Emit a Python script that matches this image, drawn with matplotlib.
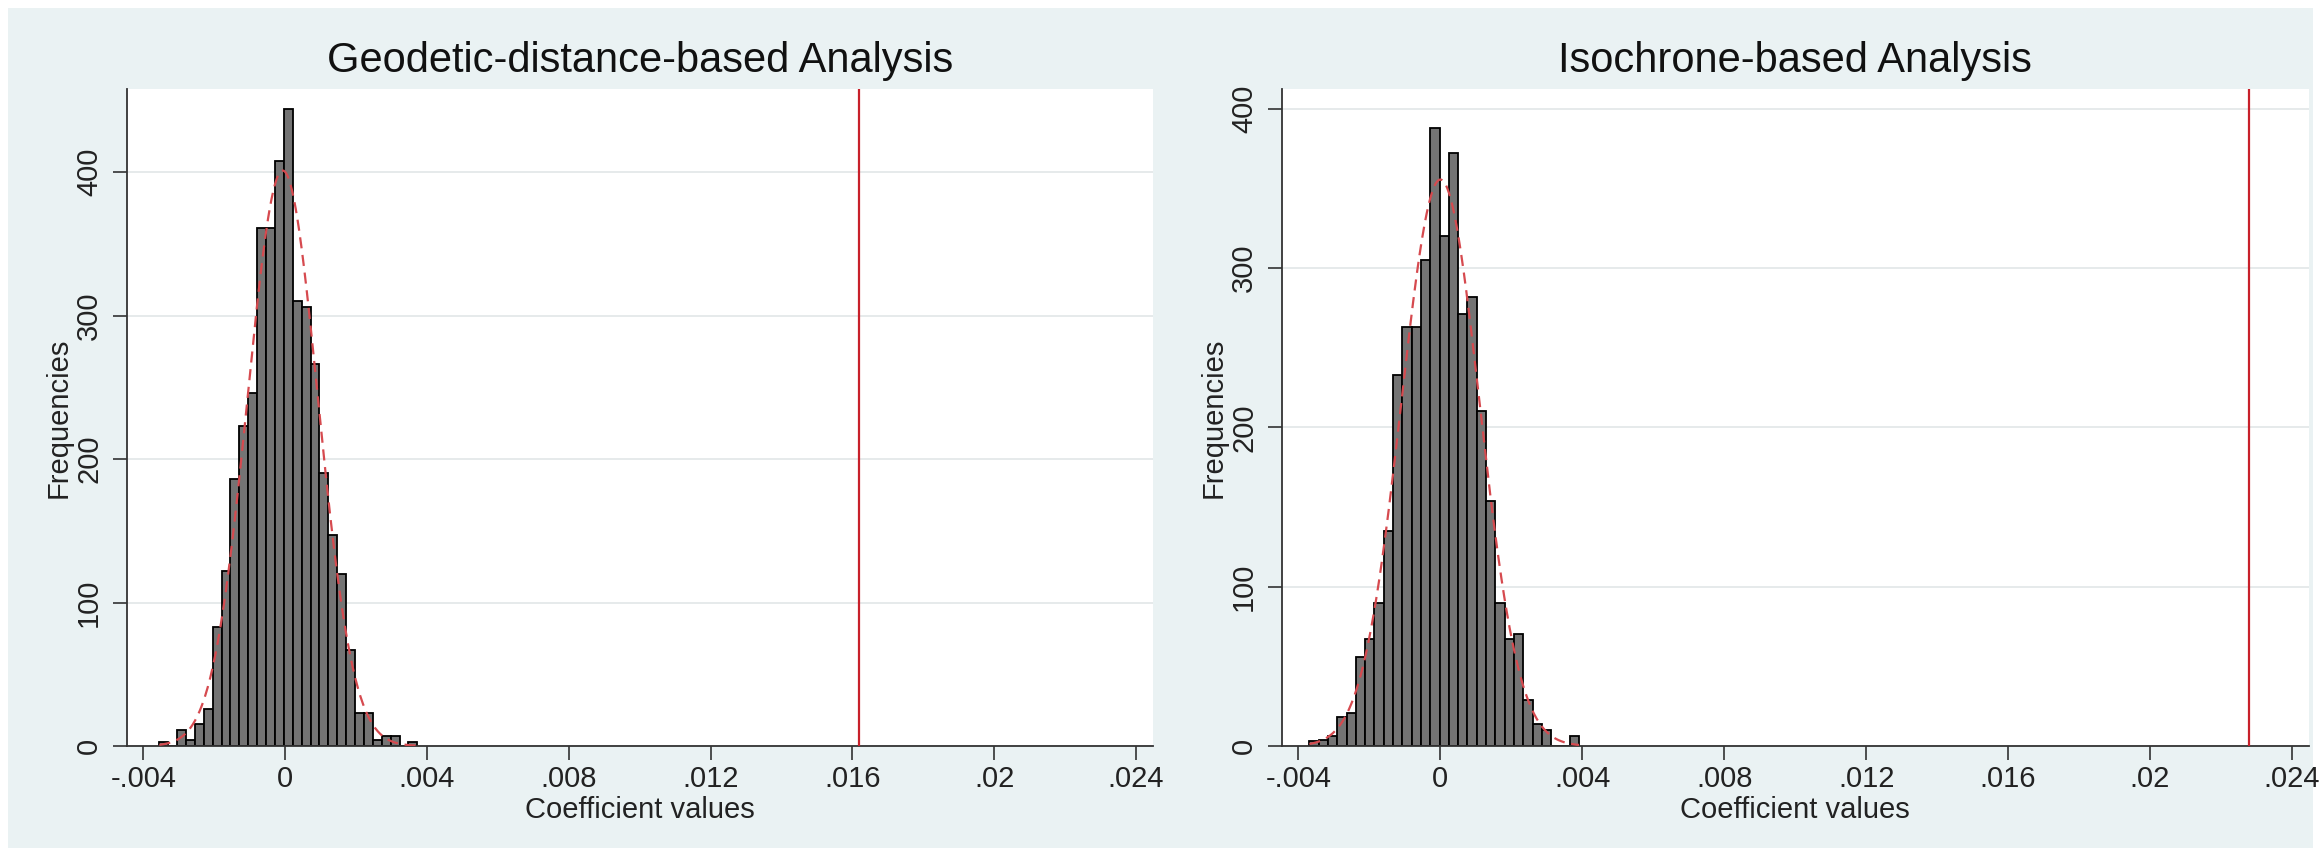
import numpy as np
import matplotlib
matplotlib.use("Agg")
import matplotlib.pyplot as plt
from matplotlib.patches import Rectangle

plt.rcParams['font.family'] = ['Liberation Sans', 'DejaVu Sans']

# histogram counts (29 bins each)
geo_counts = [3, 0, 11, 4, 15, 26, 83, 122, 186, 223, 246, 361, 361, 408, 444,
              310, 306, 266, 190, 147, 120, 67, 23, 23, 4, 7, 7, 0, 3]
geo_bin_start = -0.00355
geo_bin_width = 0.000251
geo_observed = 0.0162

iso_counts = [3, 4, 6, 18, 21, 56, 67, 90, 135, 233, 263, 263, 305, 388, 320,
              372, 271, 282, 210, 154, 90, 67, 70, 29, 14, 10, 0, 0, 6]
iso_bin_start = -0.00369
iso_bin_width = 0.000262
iso_observed = 0.0228

titles = ["Geodetic-distance-based Analysis", "Isochrone-based Analysis"]
x_ticks = [-0.004, 0, 0.004, 0.008, 0.012, 0.016, 0.02, 0.024]
x_tick_labels = ['-.004', '0', '.004', '.008', '.012', '.016', '.02', '.024']
y_ticks = [0, 100, 200, 300, 400]
y_tick_labels = ['0', '100', '200', '300', '400']
y_max = [458, 412.4]

W, H = 2321, 856
fig = plt.figure(figsize=(W / 100, H / 100), dpi=100, facecolor='white')
bg = Rectangle((8 / W, 8 / H), 1 - 16 / W, 1 - 16 / H,
               transform=fig.transFigure, facecolor='#EAF2F3',
               edgecolor='none', zorder=-10)
fig.patches.append(bg)

ax_l = fig.add_axes([126.7 / W, 1 - 746 / H, (1153 - 126.7) / W, (746 - 89) / H])
ax_r = fig.add_axes([1281.7 / W, 1 - 746 / H, (2309 - 1281.7) / W, (746 - 89) / H])

panels = [
    (ax_l, geo_counts, geo_bin_start, geo_bin_width, geo_observed),
    (ax_r, iso_counts, iso_bin_start, iso_bin_width, iso_observed),
]

for i, (ax, counts, start, width, observed) in enumerate(panels):
    counts = np.array(counts, dtype=float)
    lefts = start + width * np.arange(len(counts))
    ax.bar(lefts, counts, width=width, align='edge', color='#747474',
           edgecolor='black', linewidth=1.3, zorder=2)

    # normal density fitted to the histogram (as stata's "normal" option)
    centers = lefts + width / 2
    n = counts.sum()
    mu = (centers * counts).sum() / n
    sd = np.sqrt(((centers - mu) ** 2 * counts).sum() / n)
    xs = np.linspace(lefts[0], lefts[-1] + width, 300)
    ys = n * width / (sd * np.sqrt(2 * np.pi)) * np.exp(-0.5 * ((xs - mu) / sd) ** 2)
    ax.plot(xs, ys, color='#d64a4f', lw=1.6, ls=(0, (5, 3)), zorder=3)

    ax.axvline(observed, color='#c8202a', lw=1.6, zorder=3)

    ax.set_xlim(-0.00447, 0.02448)
    ax.set_ylim(0, y_max[i])
    ax.set_facecolor('white')
    ax.set_xticks(x_ticks)
    ax.set_xticklabels(x_tick_labels)
    ax.set_yticks(y_ticks)
    ax.set_yticklabels(y_tick_labels, rotation=90, va='center')
    ax.tick_params(direction='out', length=10, width=1.1, labelsize=21,
                   colors='#222222')
    ax.tick_params(axis='x', pad=4)
    ax.tick_params(axis='y', pad=7)
    ax.grid(axis='y', color='#e1e6e8', lw=1.2, zorder=0)
    ax.set_axisbelow(True)
    for s in ['top', 'right']:
        ax.spines[s].set_visible(False)
    for s in ['left', 'bottom']:
        ax.spines[s].set_color('#333333')
        ax.spines[s].set_linewidth(1.3)
    ax.set_title(titles[i], fontsize=30, pad=12, color='#111111')
    ax.set_xlabel('Coefficient values', fontsize=21, labelpad=2, color='#222222')
    ax.set_ylabel('Frequencies', fontsize=21, labelpad=2, color='#222222')

fig.savefig('out.png', dpi=100, facecolor=fig.get_facecolor())
